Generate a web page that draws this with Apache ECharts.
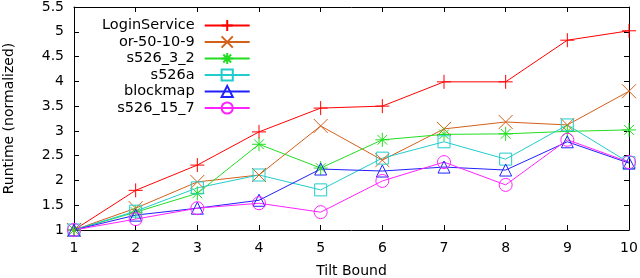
<!DOCTYPE html>
<html><head><meta charset="utf-8">
<script src="https://cdn.jsdelivr.net/npm/echarts@6/dist/echarts.min.js"></script>
<style>html,body{margin:0;padding:0;background:#fff}#c{width:640px;height:278px}</style>
</head><body><div id="c"></div>
<script>
const tiltBounds = [1,2,3,4,5,6,7,8,9,10];
const seriesNames = ['LoginService','or-50-10-9','s526_3_2','s526a','blockmap','s526_15_7'];
const loginService = [1, 1.80, 2.31, 2.98, 3.46, 3.50, 3.99, 3.99, 4.83, 5.02];
const or50109 = [1, 1.44, 1.97, 2.11, 3.10, 2.41, 3.04, 3.18, 3.12, 3.80];
const s526_3_2 = [1, 1.36, 1.74, 2.73, 2.25, 2.82, 2.93, 2.94, 2.99, 3.02];
const s526a = [1, 1.38, 1.85, 2.11, 1.81, 2.45, 2.78, 2.43, 3.12, 2.36];
const blockmap = [1, 1.30, 1.44, 1.60, 2.23, 2.19, 2.27, 2.21, 2.78, 2.35];
const s526_15_7 = [1, 1.22, 1.44, 1.54, 1.36, 1.99, 2.37, 1.91, 2.82, 2.37];
const yTicks = [1,1.5,2,2.5,3,3.5,4,4.5,5,5.5];

const values = [loginService, or50109, s526_3_2, s526a, blockmap, s526_15_7];
const colors = ['#ff0000','#d2601a','#22dd22','#22cccc','#2020ff','#ff22ff'];
const symbols = [
  'path://M0,5L10,5M5,0L5,10',
  'path://M0,0L10,10M10,0L0,10',
  'path://M0,5L10,5M5,0L5,10M1.5,1.5L8.5,8.5M8.5,1.5L1.5,8.5',
  'rect',
  'triangle',
  'circle'
];
const sizes = [14, 14, 14, 12, 12, 13];

const FONT = 'DejaVu Sans';
const chart = echarts.init(document.getElementById('c'), null, {renderer:'canvas'});
const series = seriesNames.map((n,i)=>({
  name:n, type:'line', xAxisIndex:0, yAxisIndex:0,
  data: tiltBounds.map((x,j)=>[x, values[i][j]]),
  symbol: symbols[i], symbolSize: sizes[i], showAllSymbol:true,
  itemStyle:{color:'rgba(0,0,0,0)', borderColor:colors[i], borderWidth:1},
  lineStyle:{color:colors[i], width:1},
  emphasis:{disabled:true}, animation:false
}));
const axisBase = {
  min:1, max:10, interval:1, type:'value',
  axisLine:{show:true, onZero:false, lineStyle:{color:'#000', width:1}},
  axisTick:{show:true, inside:true, length:5, lineStyle:{color:'#000'}},
  splitLine:{show:false}
};
chart.setOption({
  animation:false,
  grid:{left:74, right:11, top:7, bottom:48, containLabel:false, outerBoundsMode:'none'},
  legend:{
    orient:'vertical', left:97, top:13, align:'right',
    itemWidth:45, itemHeight:14, itemGap:1.5,
    formatter: n => '{a|' + n + '}',
    textStyle:{fontFamily:FONT, fontSize:14.5, color:'#000',
      rich:{a:{fontFamily:FONT, fontSize:14.5, color:'#000', width:110, align:'right', padding:[0,5,0,0]}}},
    data: seriesNames
  },
  xAxis:[
    Object.assign({}, axisBase, {position:'bottom', name:'Tilt Bound', nameLocation:'middle', nameGap:34,
      nameTextStyle:{fontFamily:FONT, fontSize:14, color:'#000'},
      axisLabel:{fontFamily:FONT, fontSize:14, color:'#000', margin:11}}),
    Object.assign({}, axisBase, {position:'top', axisLabel:{show:false}})
  ],
  yAxis:[
    {type:'value', min:1, max:5.5, interval:0.5, position:'left',
     name:'Runtime (normalized)', nameLocation:'middle', nameGap:58, nameRotate:90,
     nameTextStyle:{fontFamily:FONT, fontSize:14, color:'#000'},
     axisLine:{show:true, onZero:false, lineStyle:{color:'#000'}},
     axisTick:{show:true, inside:true, length:5, lineStyle:{color:'#000'}},
     axisLabel:{fontFamily:FONT, fontSize:14, color:'#000', margin:10,
       formatter:v=>{const t=yTicks.find(k=>Math.abs(k-v)<1e-6); return t===undefined?'':String(t);}},
     splitLine:{show:false}},
    {type:'value', min:1, max:5.5, interval:0.5, position:'right',
     axisLine:{show:true, onZero:false, lineStyle:{color:'#000'}},
     axisTick:{show:true, inside:true, length:5, lineStyle:{color:'#000'}},
     axisLabel:{show:false}, splitLine:{show:false}}
  ],
  series: series
});
</script></body></html>
